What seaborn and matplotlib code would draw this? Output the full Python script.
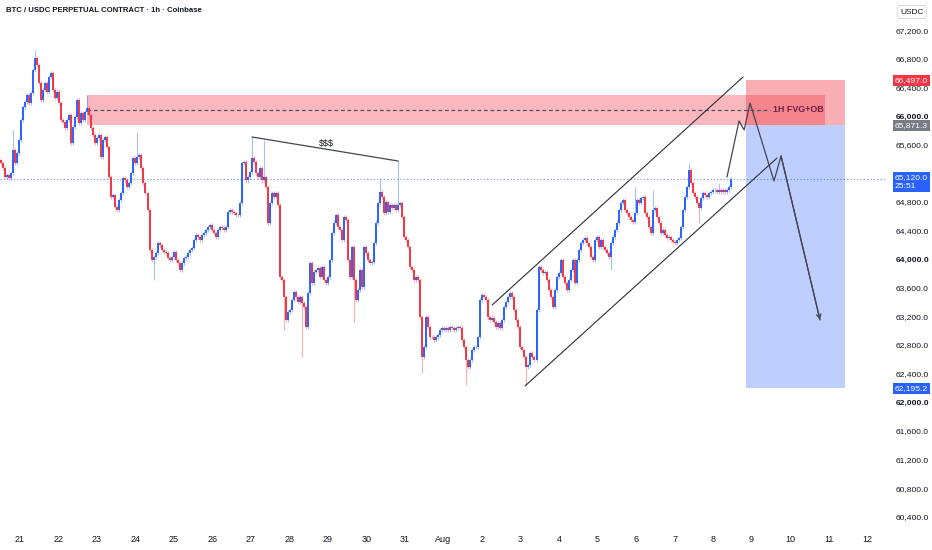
import numpy as np
import pandas as pd
import seaborn as sns
import matplotlib.pyplot as plt
import matplotlib.transforms as mtransforms

# ---- data ----
# closes of consecutive candles, first one ~Jul 20 12:10, one candle every 1.25 h
first_hour = -11.8          # hours relative to Jul 21 00:00
candle_step = 1.25
closes = [
    65340, 65270, 65150, 65170, 65130, 65200, 65520, 65340, 65480, 65660,
    65940, 66120, 66200, 66290, 66180, 66320, 66640, 66810, 66710, 66460,
    66220, 66360, 66460, 66340, 66540, 66600, 66360, 66250, 66340, 66180,
    65940, 65920, 65830, 65940, 66010, 65620, 65850, 65990, 66220, 65900,
    66040, 65940, 66060, 66110, 66010, 65830, 65730, 65620, 65690, 65730,
    65430, 65660, 65710, 65570, 65150, 64870, 64900, 64730, 64690, 64830,
    64920, 65130, 65100, 65010, 65060, 65200, 65410, 65340, 65430, 65450,
    65270, 65060, 64920, 64690, 64130, 63990, 64030, 64090, 64230, 64200,
    64130, 64100, 64090, 64020, 63990, 64030, 64100, 63990, 63950, 63850,
    63950, 64020, 64030, 64090, 64130, 64160, 64270, 64340, 64310, 64270,
    64340, 64370, 64410, 64450, 64480, 64410, 64370, 64310, 64410, 64450,
    64440, 64410, 64450, 64660, 64690, 64660, 64640, 64620, 64620, 64780,
    65340, 65360, 65100, 65150, 65220, 65410, 65360, 65200, 65150, 65270,
    65100, 65150, 65010, 64510, 64780, 64920, 64870, 64920, 64760, 63750,
    63710, 63470, 63150, 63260, 63290, 63430, 63540, 63470, 63400, 63470,
    63390, 63330, 63050, 63530, 63950, 63670, 63820, 63850, 63880, 63750,
    63890, 63710, 63670, 63750, 63990, 64370, 64510, 64620, 64450, 64410,
    64270, 64590, 64550, 63990, 63750, 64170, 63710, 63430, 63570, 63850,
    63610, 64170, 64090, 63990, 63950, 63960, 64230, 64510, 64780, 64940,
    64870, 64640, 64800, 64660, 64760, 64710, 64760, 64690, 64760, 64780,
    64590, 64310, 64270, 64170, 63890, 63850, 63710, 63750, 63710, 63190,
    62630, 62770, 63190, 63050, 62910, 62910, 62870, 62910, 62940, 63010,
    63040, 63010, 63040, 63010, 63050, 63040, 63010, 63040, 63050, 63040,
    62870, 62770, 62590, 62490, 62590, 62730, 62770, 62770, 62910, 63430,
    63500, 63470, 63430, 63190, 63150, 63180, 63120, 63050, 63110, 63040,
    63150, 63330, 63400, 63470, 63530, 63470, 63290, 63150, 63050, 62770,
    62730, 62630, 62490, 62520, 62690, 62630, 62590, 63290, 63890, 63850,
    63810, 63820, 63710, 63570, 63470, 63330, 63570, 63750, 63810, 63990,
    63750, 63670, 63570, 63710, 63850, 63990, 63670, 63990, 64130, 64230,
    64270, 64300, 64230, 64170, 64030, 63990, 64270, 64310, 64170, 64270,
    64170, 64130, 64090, 64030, 64230, 64310, 64410, 64510, 64690, 64780,
    64830, 64690, 64640, 64590, 64550, 64520, 64640, 64830, 64780, 64850,
    64870, 64640, 64590, 64450, 64370, 64690, 64710, 64590, 64510, 64370,
    64410, 64340, 64300, 64310, 64270, 64240, 64230, 64270, 64300, 64450,
    64690, 64870, 65010, 65250, 65060, 64920, 64870, 64780, 64710, 64850,
    64920, 64900, 64870, 64920, 64940, 64970, 64970, 64940, 64970, 64940,
    64970, 64940, 64970, 65010, 65120,
]
# long wicks (candle index -> price)
spike_highs = {6: 65800, 17: 66920, 43: 66290, 68: 65780, 125: 65710, 131: 65660,
               189: 65130, 198: 65380, 316: 65010, 325: 64970, 343: 65340, 358: 65060}
spike_lows = {76: 63710, 141: 63010, 150: 62630, 176: 63120, 210: 62410,
              232: 62240, 262: 62240, 304: 63850, 348: 64500}

day_labels = ["21", "22", "23", "24", "25", "26", "27", "28", "29", "30", "31", "Aug",
              "2", "3", "4", "5", "6", "7", "8", "9", "10", "11", "12"]
price_ticks = list(range(60400, 67201, 400))

last_price = 65120.0
countdown = "25:51"
fvg_low, fvg_high, fvg_mid = 65875, 66295, 66085
fvg_start, fvg_end, fvg_mid_end = 41.8, 501.8, 467.6
entry, stop, target = 65871.3, 66497.0, 62195.2
pos_start, pos_end = 452.6, 514.3

channel_upper_t, channel_upper_p = [294.3, 450.7], [63359, 66544]
channel_lower_t, channel_lower_p = [314.8, 471.9], [62228, 65413]
liq_t, liq_p = [144.6, 235.6], [65706, 65371]
proj_t = [440.7, 448.2, 451.4, 455.1, 470.0, 474.4, 498.7]
proj_p = [65147, 65930, 65804, 66181, 65091, 65441, 63150]

# ---- build OHLC ----
df = pd.DataFrame({"close": closes})
df["t"] = first_hour + candle_step * np.arange(len(df))
df["open"] = df["close"].shift(1).fillna(df["close"].iloc[0] + 40)
wick = 30
df["high"] = df[["open", "close"]].max(axis=1) + wick
df["low"] = df[["open", "close"]].min(axis=1) - wick
for i, v in spike_highs.items():
    df.loc[i, "high"] = max(df.loc[i, "high"], v)
for i, v in spike_lows.items():
    df.loc[i, "low"] = min(df.loc[i, "low"], v)
df["up"] = df["close"] >= df["open"]

BLUE = "#2962ff"
RED = "#f23645"
INK = "#131722"

sns.set_theme(style="white")
plt.rcParams["font.family"] = ["Liberation Sans", "DejaVu Sans"]

fig = plt.figure(figsize=(9.32, 5.5), dpi=100)
ax = fig.add_axes([0, 25 / 550, 885 / 932, 525 / 550])
ax.set_xlim(-12.5, 539.2)
ax.set_ylim(60286, 67620)
for s in ax.spines.values():
    s.set_visible(False)

# zones
ax.fill_between([fvg_start, fvg_end], fvg_low, fvg_high, color=RED, alpha=0.35, lw=0, zorder=1)
ax.fill_between([pos_start, pos_end], entry, stop, color=RED, alpha=0.4, lw=0, zorder=1)
ax.fill_between([pos_start, pos_end], target, entry, color=BLUE, alpha=0.3, lw=0, zorder=1)
ax.plot([fvg_start, fvg_mid_end], [fvg_mid, fvg_mid], color="#50535e", lw=0.9,
        ls=(0, (3, 2.2)), zorder=3)
ax.text(fvg_mid_end + 2, fvg_mid, "1H FVG+OB", color="#6b2146", fontsize=6.4,
        fontweight="bold", va="center", ha="left", zorder=5)

# current price line
ax.axhline(last_price, color=BLUE, lw=0.8, ls=(0, (1, 2)), alpha=0.7, zorder=2)

# candles
colors = np.where(df["up"], BLUE, RED)
ax.vlines(df["t"], df["low"], df["high"], colors=colors, lw=0.8, alpha=0.4, zorder=3)
ax.vlines(df["t"], df[["open", "close"]].min(axis=1), df[["open", "close"]].max(axis=1),
          colors=colors, lw=1.4, zorder=4, capstyle="butt")

# drawings
ax.plot(channel_upper_t, channel_upper_p, color="#2a2e39", lw=0.8, zorder=5)
ax.plot(channel_lower_t, channel_lower_p, color="#2a2e39", lw=0.8, zorder=5)
ax.plot(liq_t, liq_p, color="#434651", lw=0.9, zorder=5)
ax.text(190.8, 65622, "$$$", fontsize=6.5, color=INK, ha="center", va="center", zorder=5)

proj = pd.DataFrame({"t": proj_t, "p": proj_p})
sns.lineplot(data=proj, x="t", y="p", sort=False, estimator=None, color="#434651",
             lw=0.9, ax=ax, zorder=6)
ax.annotate("", xy=(proj_t[-1], proj_p[-1]), xytext=(proj_t[-2], proj_p[-2]),
            arrowprops=dict(arrowstyle="->", color="#434651", lw=0.9,
                            mutation_scale=8, shrinkA=0, shrinkB=0), zorder=6)
ax.set_xlabel("")
ax.set_ylabel("")

# axes ticks
ax.set_xticks([24 * i for i in range(len(day_labels))])
ax.set_xticklabels(day_labels, fontsize=6.5, color=INK)
ax.tick_params(axis="x", length=0, pad=7)
ax.yaxis.tick_right()
ax.set_yticks(price_ticks)
ax.set_yticklabels([f"{p:,.1f}" for p in price_ticks], fontsize=6.1, color=INK)
ax.tick_params(axis="y", length=0, pad=7.5)
for lab, p in zip(ax.get_yticklabels(), price_ticks):
    if p % 2000 == 0:
        lab.set_fontweight("bold")
ax.grid(False)

# price labels on the axis
trans = mtransforms.blended_transform_factory(ax.transAxes, ax.transData)
def axis_tag(price, text, color, va="center"):
    ax.text(1.011, price, text, transform=trans, fontsize=6.1, color="white",
            ha="left", va=va, clip_on=False, zorder=10, linespacing=1.55,
            bbox=dict(boxstyle="square,pad=0.22", fc=color, ec="none"))

axis_tag(stop, f"{stop:,.1f}", RED)
axis_tag(entry, f"{entry:,.1f}", "#787b86")
axis_tag(target, f"{target:,.1f}", BLUE)
axis_tag(last_price + 75, f"{last_price:,.1f}\n{countdown}", BLUE, va="top")

fig.text(912 / 932, 1 - 12 / 550, "USDC", fontsize=6, color=INK, ha="center",
         va="center", bbox=dict(boxstyle="round,pad=0.35", fc="white", ec="#d1d4dc", lw=0.6))
fig.text(6 / 932, 1 - 11 / 550, "BTC / USDC PERPETUAL CONTRACT · 1h · Coinbase",
         fontsize=5.6, color=INK, ha="left", va="center", fontweight="bold")

fig.savefig("out.png", dpi=100, facecolor="white")
